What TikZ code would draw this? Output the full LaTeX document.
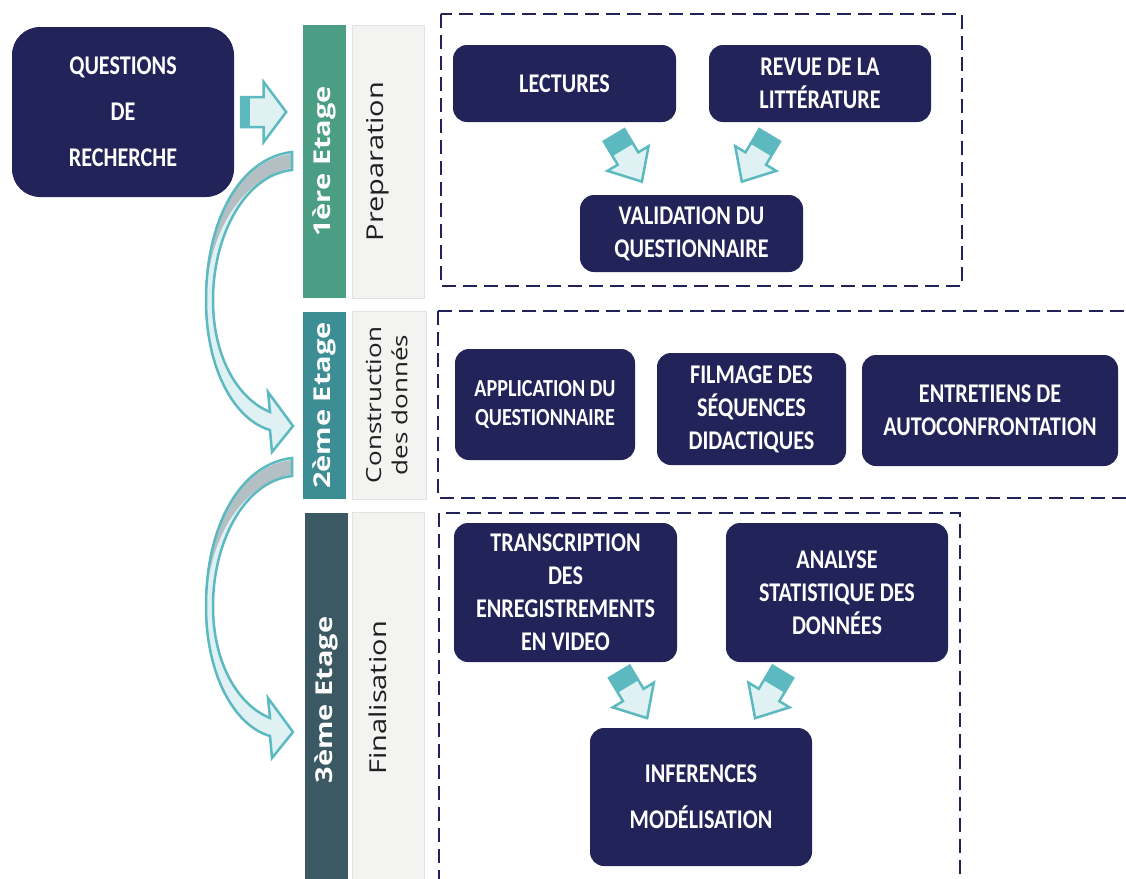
\documentclass[tikz,border=0pt]{standalone}
\usepackage{fontspec}
\usepackage{graphicx}
\setmainfont{Open Sans}
\newfontfamily\boxfont[FakeStretch=0.82]{Carlito}
\usetikzlibrary{calc}

\definecolor{navy}{HTML}{212359}
\definecolor{green1}{HTML}{4B9E84}
\definecolor{teal2}{HTML}{3C8D94}
\definecolor{slate}{HTML}{3A5963}
\definecolor{labgray}{HTML}{F3F3F2}
\definecolor{labline}{HTML}{E2E2E2}
\definecolor{teal1}{HTML}{5CB9C0}
\definecolor{light1}{HTML}{DFF1F3}
\definecolor{grey1}{HTML}{B3BFC2}
\definecolor{ink}{HTML}{1F1F1F}

\newcommand{\blocfleche}{(-27,-12) -- (0,-12) -- (0,-24) -- (27,0) -- (0,24) -- (0,12) -- (-27,12) -- cycle}
\newcommand{\bandearc}{(292,152) .. controls (240,158) and (206,220) .. (206,300)
  .. controls (206,370) and (235,420) .. (270,430) -- (272,452) -- (293,426) -- (268,392) -- (270,412)
  .. controls (240,400) and (213,360) .. (213,300) .. controls (213,235) and (245,175) .. (292,170) -- cycle}

\begin{document}
\begin{tikzpicture}[x=1pt,y=-1pt,
    stepbox/.style={fill=navy,rounded corners=14pt,text=white,align=center,inner sep=0pt,
      font=\boxfont\bfseries\fontsize{27}{33}\selectfont},
    etage/.style={fill=#1,minimum width=43pt,inner sep=0pt},
    etiq/.style={fill=labgray,draw=labline,line width=1pt,minimum width=72pt,inner sep=0pt},
    cadre/.style={draw=navy,line width=2.5pt,dash pattern=on 14pt off 7pt},
    vbold/.style={rotate=90,inner sep=0pt,text=white,font=\bfseries\fontsize{29}{35}\selectfont},
    vreg/.style={rotate=90,inner sep=0pt,text=ink,font=\fontsize{29}{35}\selectfont},
    fleche/.style={draw=teal1,line width=2.5pt,line join=miter}]
  \path[use as bounding box,fill=white] (0,0) rectangle (1126,878);

  % dashed frames
  \draw[cadre] (441,14) rectangle (962,286);
  \draw[cadre] (438,311) rectangle (1140,498);
  \draw[cadre] (439,513) rectangle (960,895);

  % stages
  \node[etage=green1,minimum height=273pt] (e1) at (324.5,161.5) {};
  \node[etiq,minimum height=273pt] (l1) at (388,161.5) {};
  \node[etage=teal2,minimum height=187pt] (e2) at (324.5,405.5) {};
  \node[etiq,minimum height=188pt,minimum width=74pt] (l2) at (389,405) {};
  \node[etage=slate,minimum height=370pt] (e3) at (326,698) {};
  \node[etiq,minimum height=370pt] (l3) at (388,697) {};
  \node[vbold] (t1) at (e1) {\scalebox{1}[0.8]{1ère Etage}};
  \node[vreg] (r1) at ($(l1)+(-10,0)$) {\scalebox{1}[0.8]{Preparation}};
  \node[vbold] (t2) at (e2) {\scalebox{1}[0.8]{2ème Etage}};
  \node[vreg,font=\fontsize{26}{33}\selectfont] (r2) at (l2)
    {\scalebox{1}[0.8]{\begin{tabular}{@{}c@{}}Construction\\des donnés\end{tabular}}};
  \node[vbold] (t3) at (326,700) {\scalebox{1}[0.8]{3ème Etage}};
  \node[vreg] (r3) at (378,698) {\scalebox{1}[0.8]{Finalisation}};

  % boxes
  \node[stepbox,minimum width=222pt,minimum height=170pt,rounded corners=28pt,
    font=\boxfont\bfseries\fontsize{27}{46}\selectfont] (q) at (123,112) {QUESTIONS\\DE\\RECHERCHE};
  \node[stepbox,minimum width=223pt,minimum height=77pt] (lect) at (564.5,83.5) {LECTURES};
  \node[stepbox,minimum width=222pt,minimum height=77pt] (revue) at (820,83.5) {REVUE DE LA\\LITTÉRATURE};
  \node[stepbox,minimum width=223pt,minimum height=77pt] (valid) at (691.5,233.5) {VALIDATION DU\\QUESTIONNAIRE};
  \node[stepbox,minimum width=180pt,minimum height=111pt,
    font=\boxfont\bfseries\fontsize{24.5}{29}\selectfont] (appl) at (545,404.5) {APPLICATION DU\\QUESTIONNAIRE};
  \node[stepbox,minimum width=189pt,minimum height=112pt] (film) at (751.5,409) {FILMAGE DES\\SÉQUENCES\\DIDACTIQUES};
  \node[stepbox,minimum width=256pt,minimum height=111pt] (entr) at (990,410.5) {ENTRETIENS DE\\AUTOCONFRONTATION};
  \node[stepbox,minimum width=223pt,minimum height=139pt] (trans) at (565.5,592.5)
    {TRANSCRIPTION\\DES\\ENREGISTREMENTS\\EN VIDEO};
  \node[stepbox,minimum width=222pt,minimum height=139pt] (anal) at (837,592.5)
    {ANALYSE\\STATISTIQUE DES\\DONNÉES};
  \node[stepbox,minimum width=222pt,minimum height=138pt,
    font=\boxfont\bfseries\fontsize{27}{46}\selectfont] (infer) at (701,797) {INFERENCES\\MODÉLISATION};

  % block arrows
  \coordinate (f0) at ($(q.east)!0.43!(q.east -| e1.west)$);
  \begin{scope}[shift={(f0)}]
    \fill[light1] (-22.5,-15) -- (0,-15) -- (0,-30) -- (22.5,0) -- (0,30) -- (0,15) -- (-22.5,15) -- cycle;
    \fill[teal1] (-22.5,-15) rectangle (-13.5,15);
    \draw[fleche] (-22.5,-15) -- (0,-15) -- (0,-30) -- (22.5,0) -- (0,30) -- (0,15) -- (-22.5,15) -- cycle;
  \end{scope}
  \coordinate (a1) at ($(lect.south)!0.5!(valid.north)$);
  \coordinate (a2) at ($(revue.south)!0.5!(valid.north)$);
  \coordinate (a3) at ($(trans.south)!0.5!(infer.north)$);
  \coordinate (a4) at ($(anal.south)!0.5!(infer.north)$);
  \foreach \c/\ang in {a1/-59,a2/-121,a3/-59,a4/-121} {
    \begin{scope}[shift={(\c)},rotate=\ang]
      \fill[light1] \blocfleche;
      \fill[teal1] (-27,-12) rectangle (-10,12);
      \draw[fleche] \blocfleche;
    \end{scope}
  }

  % curved arrows between stages
  \foreach \dy in {0,306} {
    \begin{scope}[shift={(0,\dy)}]
      \fill[light1] \bandearc;
      \fill[grey1] (292,154) .. controls (240,160) and (208,220) .. (207,285)
        .. controls (212,230) and (242,178) .. (292,168) -- cycle;
      \draw[fleche] \bandearc;
    \end{scope}
  }
\end{tikzpicture}
\end{document}
